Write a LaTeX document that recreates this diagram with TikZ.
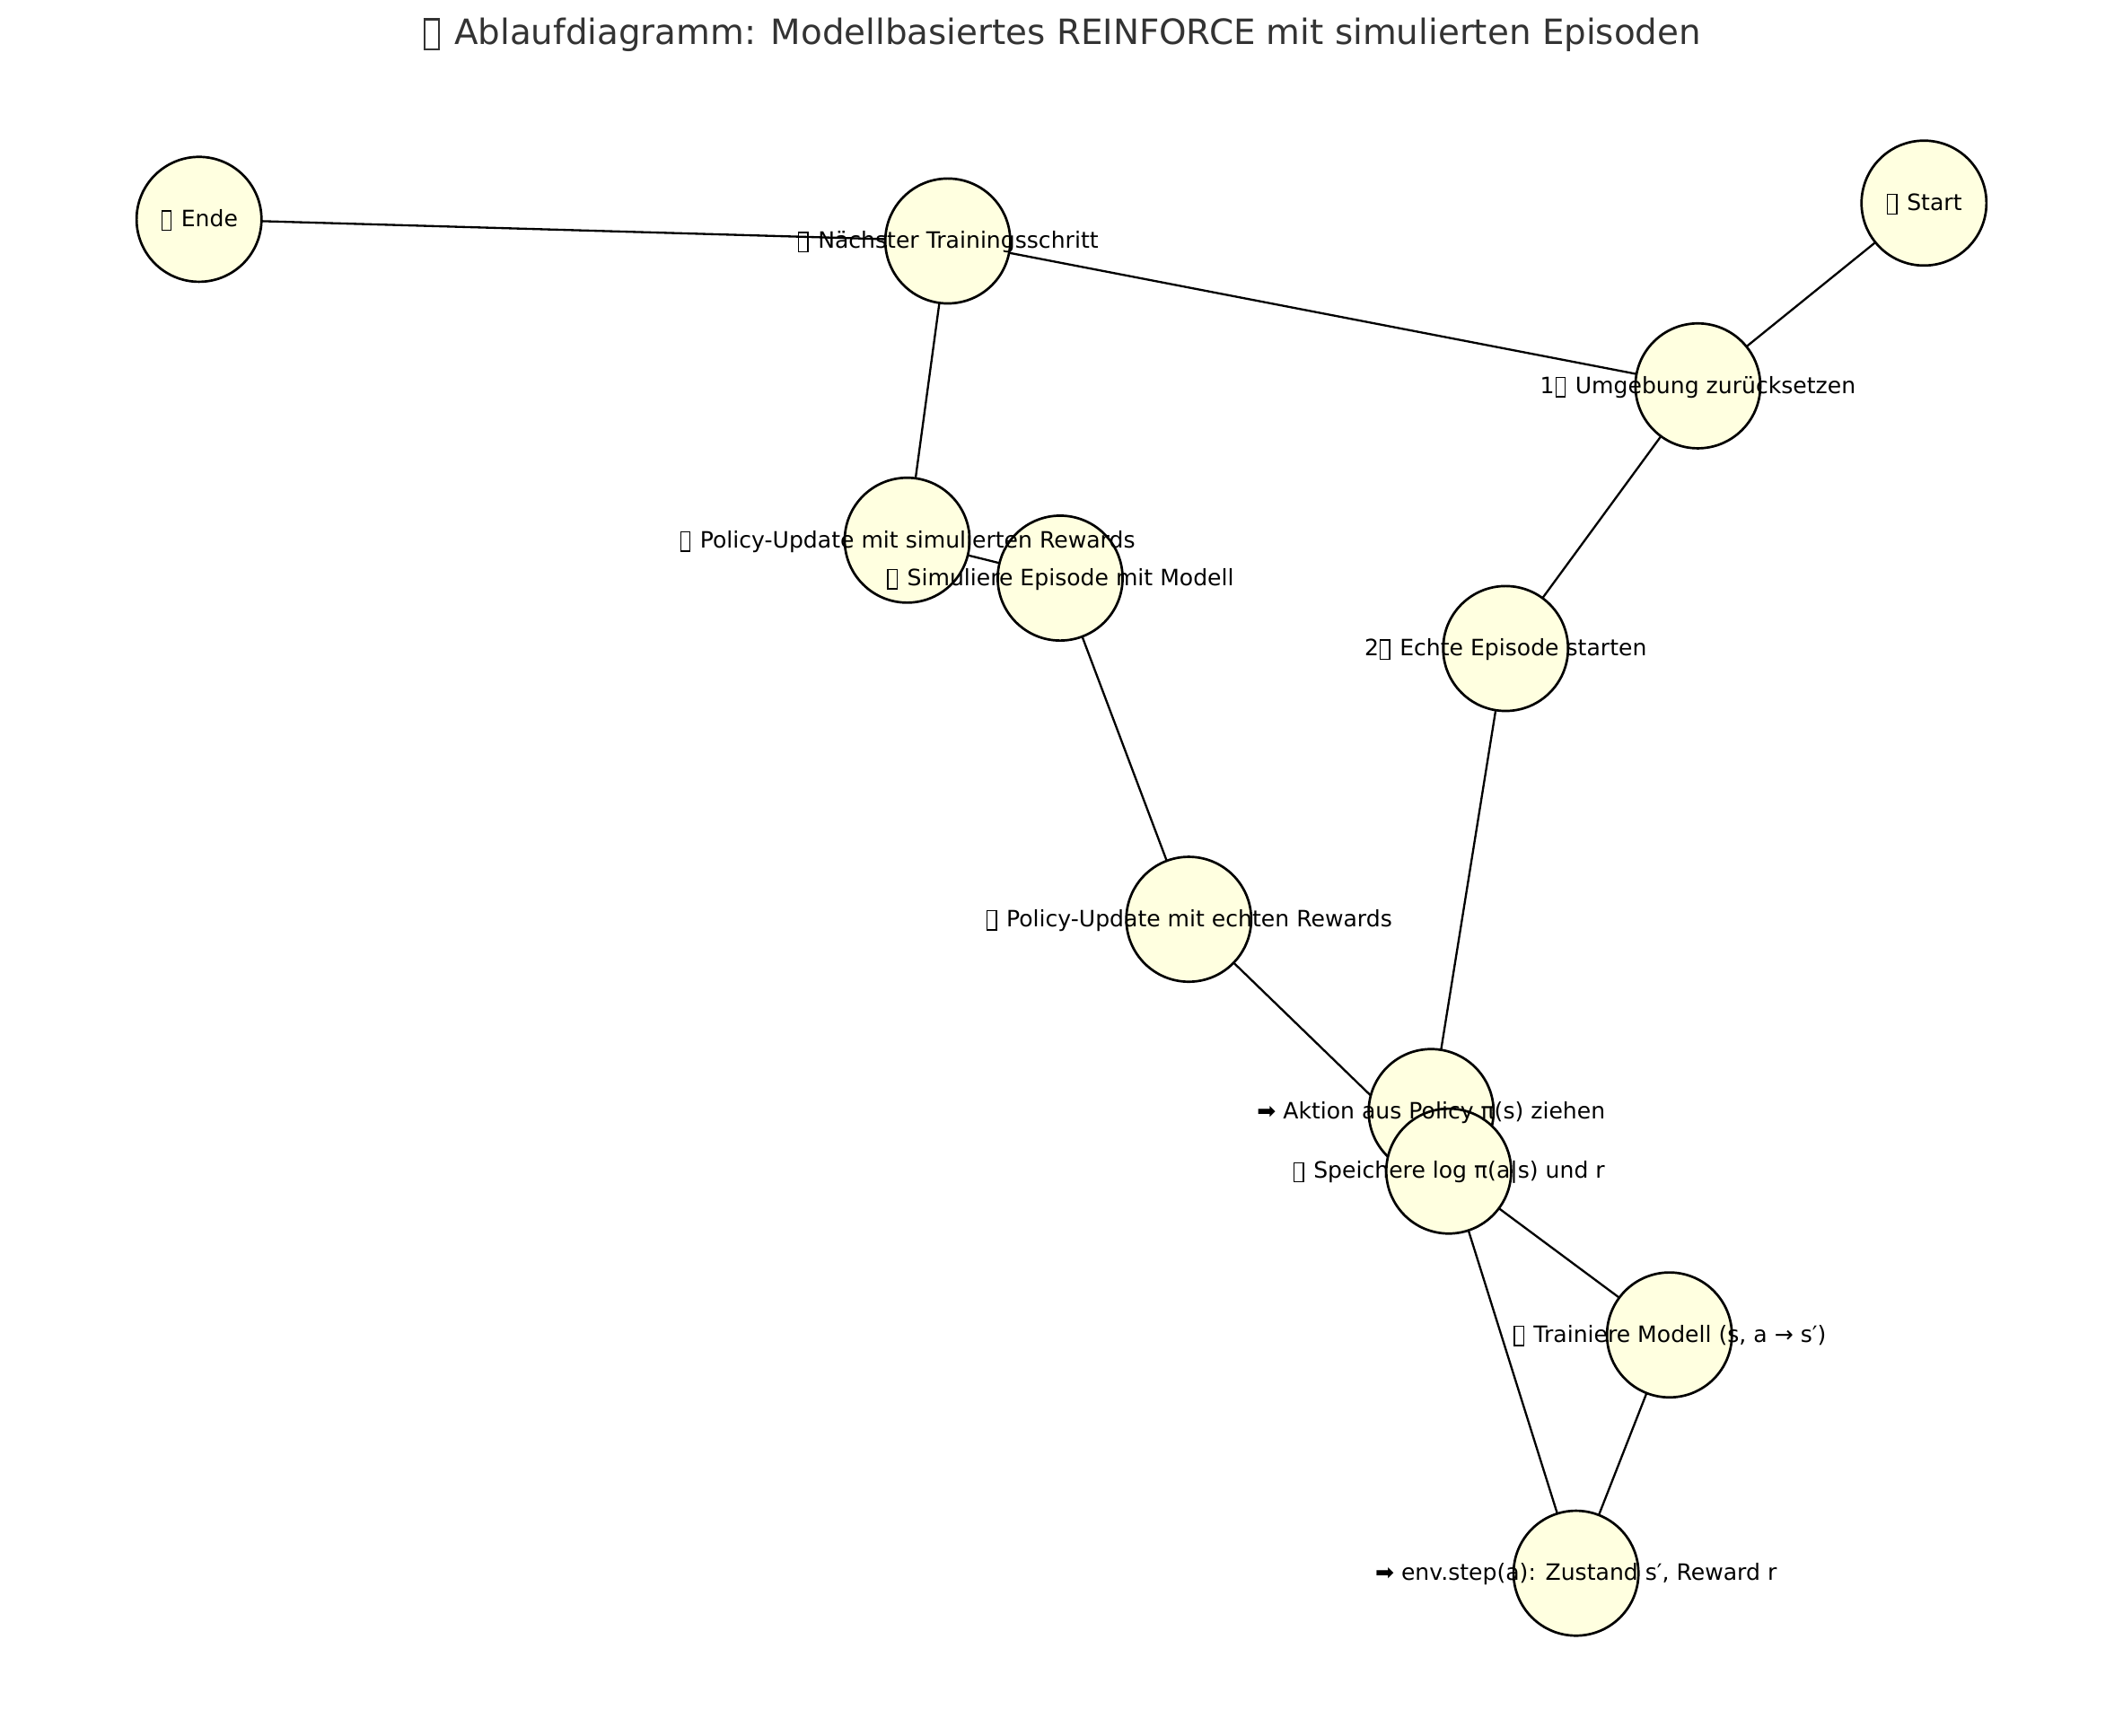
\documentclass[tikz,border=0pt]{standalone}
\usepackage{fontspec}
\setmainfont{DejaVu Sans}
\newcommand\tofu{\kern0.04em\raisebox{-0.12em}{\setlength\fboxsep{0pt}\setlength\fboxrule{0.055em}\fbox{\rule{0pt}{0.8em}\rule{0.36em}{0pt}}}\kern0.1em}
\definecolor{nodefill}{HTML}{FFFFE0}
\definecolor{titlegray}{HTML}{333333}
\pgfdeclarelayer{bg}
\pgfdeclarelayer{fg}
\pgfsetlayers{bg,main,fg}
\tikzset{
  stnode/.style={circle, draw=black, fill=nodefill, line width=1.1pt, minimum size=57pt, inner sep=0pt},
  lbl/.style={anchor=base, inner sep=0pt, font=\fontsize{10.28}{12}\selectfont, text=black},
  edge/.style={draw=black, line width=0.95pt},
  ttl/.style={anchor=base, inner sep=0pt, font=\fontsize{15.9}{19}\selectfont, text=titlegray}
}
\begin{document}
\begin{tikzpicture}[x=0.61783pt,y=-0.61783pt]
\useasboundingbox (0,0) rectangle (1568,1282.25);
% nodes (circles)
\node[stnode] (start) at (1421,150) {};
\node[stnode] (reset) at (1254,285) {};
\node[stnode] (echte) at (1112,479) {};
\node[stnode] (aktion) at (1057,821) {};
\node[stnode] (env) at (1164,1162) {};
\node[stnode] (speich) at (1070,865) {};
\node[stnode] (train) at (1233,986) {};
\node[stnode] (pecht) at (878,679) {};
\node[stnode] (simul) at (783,427) {};
\node[stnode] (psim) at (670,399) {};
\node[stnode] (next) at (700,178) {};
\node[stnode] (ende) at (147,162) {};
% edges
\begin{pgfonlayer}{bg}
\draw[edge] (ende.center) -- (next.center);
\draw[edge] (next.center) -- (reset.center);
\draw[edge] (next.center) -- (psim.center);
\draw[edge] (start.center) -- (reset.center);
\draw[edge] (reset.center) -- (echte.center);
\draw[edge] (echte.center) -- (aktion.center);
\draw[edge] (psim.center) -- (simul.center);
\draw[edge] (simul.center) -- (pecht.center);
\draw[edge] (pecht.center) -- (speich.center);
\draw[edge] (aktion.center) -- (env.center);
\draw[edge] (env.center) -- (train.center);
\draw[edge] (train.center) -- (speich.center);
\end{pgfonlayer}
% labels
\begin{pgfonlayer}{fg}
\node[lbl] (lstart) at ([yshift=-3.4pt]start.center) {\tofu{} Start};
\node[lbl] (lreset) at ([yshift=-3.4pt]reset.center) {1\tofu{} Umgebung zurücksetzen};
\node[lbl] (lechte) at ([yshift=-3.4pt]echte.center) {2\tofu{} Echte Episode starten};
\node[lbl] (laktion) at ([yshift=-3.4pt]aktion.center) {➡ Aktion aus Policy π(s) ziehen};
\node[lbl] (lenv) at ([yshift=-3.4pt]env.center) {➡ env.step(a): Zustand s′, Reward r};
\node[lbl] (lspeich) at ([yshift=-3.4pt]speich.center) {\tofu{} Speichere log π(a|s) und r};
\node[lbl] (ltrain) at ([yshift=-3.4pt]train.center) {\tofu{} Trainiere Modell (s, a → s′)};
\node[lbl] (lpecht) at ([yshift=-3.4pt]pecht.center) {\tofu{} Policy-Update mit echten Rewards};
\node[lbl] (lsimul) at ([yshift=-3.4pt]simul.center) {\tofu{} Simuliere Episode mit Modell};
\node[lbl] (lpsim) at ([yshift=-3.4pt]psim.center) {\tofu{} Policy-Update mit simulierten Rewards};
\node[lbl] (lnext) at ([yshift=-3.4pt]next.center) {\tofu{} Nächster Trainingsschritt};
\node[lbl] (lende) at ([yshift=-3.4pt]ende.center) {\tofu{} Ende};
\node[ttl] (title) at (784,32.5) {\tofu{} Ablaufdiagramm: Modellbasiertes REINFORCE mit simulierten Episoden};
\end{pgfonlayer}
\end{tikzpicture}
\end{document}
